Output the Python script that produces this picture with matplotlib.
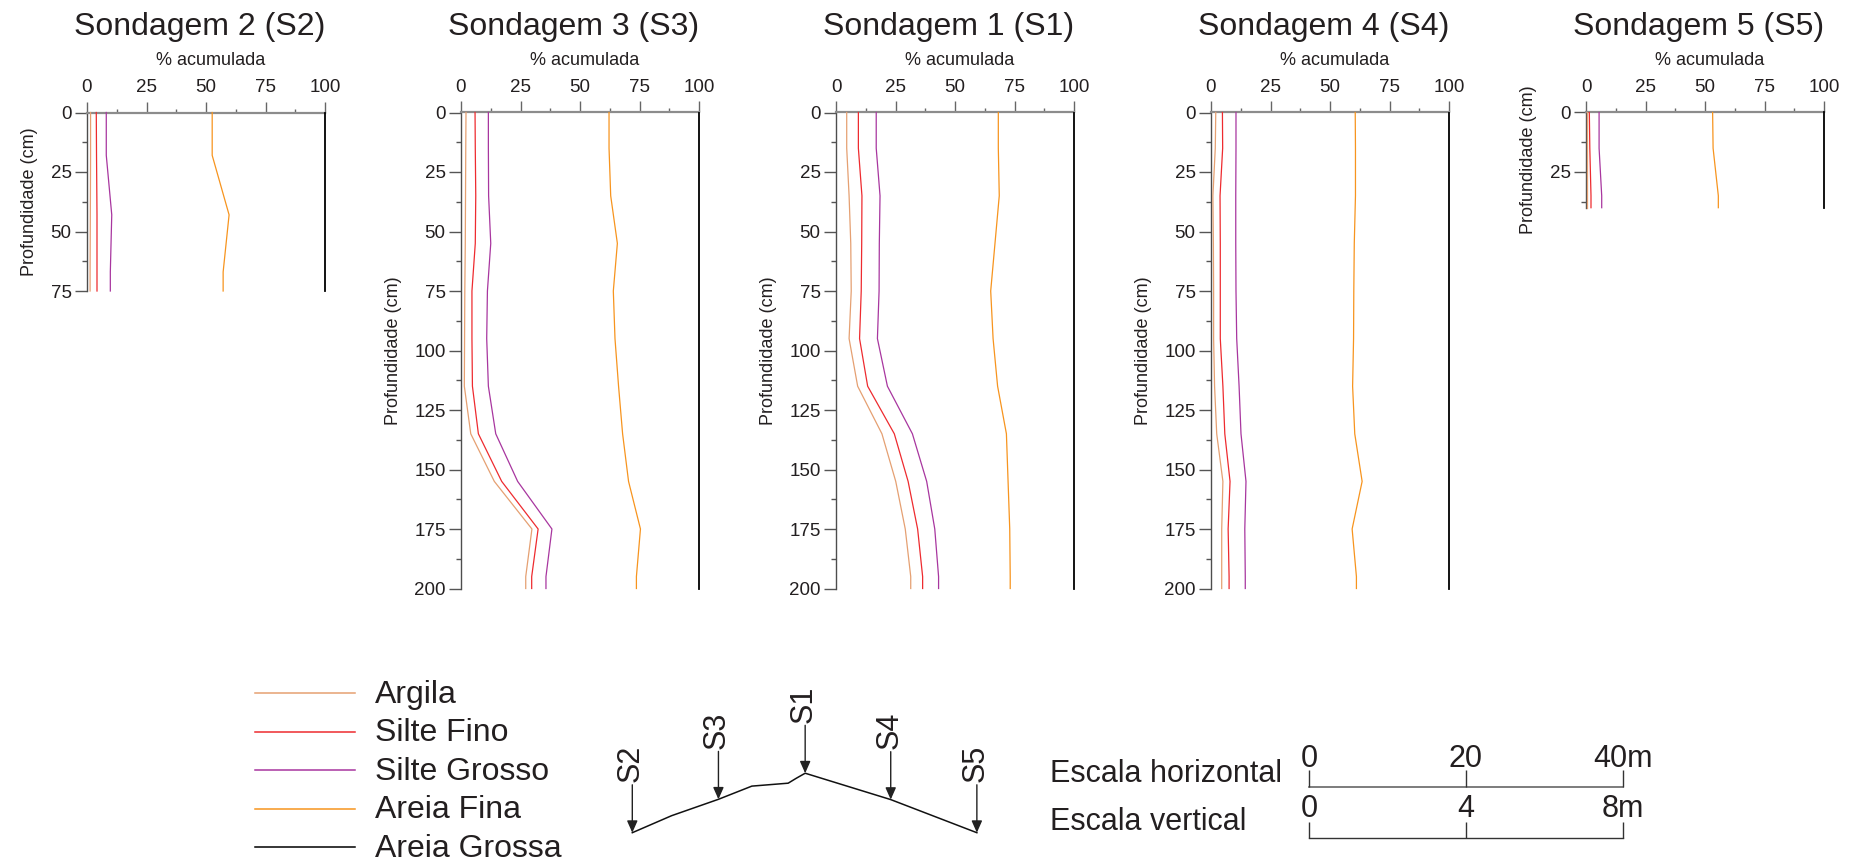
import matplotlib
matplotlib.use('Agg')
import matplotlib.pyplot as plt
from matplotlib.ticker import MultipleLocator, FixedLocator

plt.rcParams['font.family'] = ['Liberation Sans', 'DejaVu Sans']
TXT = '#231F20'

# ---------------- data ----------------
series_names = ['Argila', 'Silte Fino', 'Silte Grosso', 'Areia Fina', 'Areia Grossa']
series_colors = ['#E5A072', '#EE2B2F', '#A8369F', '#F7941E', '#000000']

panel_titles = ['Sondagem 2 (S2)', 'Sondagem 3 (S3)', 'Sondagem 1 (S1)',
                'Sondagem 4 (S4)', 'Sondagem 5 (S5)']
panel_maxdepth = [75, 200, 200, 200, 40]

depth_s2 = [0, 18, 43, 67, 75]
s2_argila = [1.5, 1.5, 1.4, 1.3, 1.3]
s2_silte_fino = [3.9, 4.0, 4.2, 4.2, 4.2]
s2_silte_grosso = [8.1, 8.1, 10.4, 9.8, 9.8]
s2_areia_fina = [52.6, 52.6, 59.7, 57.2, 57.2]
s2_areia_grossa = [100, 100, 100, 100, 100]

depth_std = [0, 15, 35, 55, 75, 95, 115, 135, 155, 175, 195, 200]

s3_argila = [2.1, 2.0, 1.9, 1.8, 1.6, 1.5, 1.4, 4.1, 14.0, 29.8, 27.2, 27.2]
s3_silte_fino = [5.9, 6.0, 6.2, 6.0, 4.6, 4.6, 4.8, 7.3, 17.1, 32.4, 29.7, 29.7]
s3_silte_grosso = [11.5, 11.5, 11.6, 12.5, 11.1, 10.8, 11.5, 14.6, 23.8, 38.2, 35.7, 35.7]
s3_areia_fina = [62.2, 62.2, 62.9, 65.7, 64.0, 64.7, 66.2, 67.9, 70.4, 75.4, 73.7, 73.7]
s3_areia_grossa = [100, 100, 100, 100, 100, 100, 100, 100, 100, 100, 100, 100]

s1_argila = [4.5, 4.5, 5.5, 6.2, 6.4, 5.5, 9.1, 19.3, 25.1, 29.1, 31.4, 31.4]
s1_silte_fino = [9.4, 9.4, 10.9, 10.8, 10.6, 9.9, 13.3, 24.5, 30.3, 34.3, 36.4, 36.4]
s1_silte_grosso = [16.9, 16.9, 18.5, 18.2, 18.1, 17.4, 21.6, 32.1, 38.1, 41.5, 43.1, 43.1]
s1_areia_fina = [68.2, 68.2, 68.6, 66.8, 65.0, 66.0, 67.9, 71.6, 72.3, 73.0, 73.2, 73.2]
s1_areia_grossa = [100, 100, 100, 100, 100, 100, 100, 100, 100, 100, 100, 100]

s4_argila = [2.0, 1.8, 0.8, 1.0, 1.1, 1.1, 1.5, 2.4, 5.0, 4.5, 4.5, 4.5]
s4_silte_fino = [4.8, 4.9, 3.8, 3.9, 3.9, 3.9, 5.0, 5.8, 8.0, 7.2, 7.6, 7.6]
s4_silte_grosso = [10.5, 10.5, 10.4, 10.4, 10.5, 10.8, 11.8, 12.6, 14.7, 14.2, 14.4, 14.4]
s4_areia_fina = [60.6, 60.7, 60.7, 60.2, 60.0, 59.9, 59.5, 60.4, 63.5, 59.3, 61.1, 61.1]
s4_areia_grossa = [100, 100, 100, 100, 100, 100, 100, 100, 100, 100, 100, 100]

depth_s5 = [0, 15, 35, 40]
s5_argila = [0.3, 0.3, 0.3, 0.3]
s5_silte_fino = [1.4, 1.6, 2.1, 2.1]
s5_silte_grosso = [5.5, 5.5, 6.6, 6.6]
s5_areia_fina = [53.2, 53.4, 55.6, 55.6]
s5_areia_grossa = [100, 100, 100, 100]

panel_depths = [depth_s2, depth_std, depth_std, depth_std, depth_s5]
panel_series = [
    [s2_argila, s2_silte_fino, s2_silte_grosso, s2_areia_fina, s2_areia_grossa],
    [s3_argila, s3_silte_fino, s3_silte_grosso, s3_areia_fina, s3_areia_grossa],
    [s1_argila, s1_silte_fino, s1_silte_grosso, s1_areia_fina, s1_areia_grossa],
    [s4_argila, s4_silte_fino, s4_silte_grosso, s4_areia_fina, s4_areia_grossa],
    [s5_argila, s5_silte_fino, s5_silte_grosso, s5_areia_fina, s5_areia_grossa],
]

x_ticks = [0, 25, 50, 75, 100]

# schematic cross-section (distance m, elevation m)
profile_dist = [0, 6.7, 14.7, 20.4, 26.6, 28.0, 29.5, 44.1, 58.8]
profile_elev = [0, 0.58, 1.14, 1.59, 1.69, 1.86, 2.03, 1.13, 0.0]
sond_labels = ['S2', 'S3', 'S1', 'S4', 'S5']
sond_dist = [0, 14.7, 29.5, 44.1, 58.8]
sond_elev = [0, 1.14, 2.03, 1.13, 0.0]

scale_h_ticks = [0, 20, 40]
scale_h_labels = ['0', '20', '40m']
scale_v_ticks = [0, 4, 8]
scale_v_labels = ['0', '4', '8m']

# ---------------- figure ----------------
W, H = 1854, 861
fig = plt.figure(figsize=(W / 100, H / 100), dpi=100)


def add_ax(x0, x1, y0, y1):
    return fig.add_axes([x0 / W, 1 - y1 / H, (x1 - x0) / W, (y1 - y0) / H])


def fx(px):
    return px / W


def fy(py):
    return 1 - py / H


panel_left = [87, 461, 836, 1211, 1586]
panel_width = 238
panel_top = 112.5
px_per_cm = 2.38

for i in range(5):
    x0 = panel_left[i]
    y0 = panel_top
    y1 = y0 + panel_maxdepth[i] * px_per_cm
    ax = add_ax(x0, x0 + panel_width, y0, y1)
    d = panel_depths[i]
    for vals, col, nm in zip(panel_series[i], series_colors, series_names):
        lw = 1.3 if nm == 'Areia Grossa' else 0.9
        ax.plot(vals, d, color=col, lw=lw, clip_on=False, zorder=3)
    ax.set_xlim(0, 100)
    ax.set_ylim(panel_maxdepth[i], 0)
    ax.xaxis.tick_top()
    ax.xaxis.set_major_locator(FixedLocator(x_ticks))
    ax.xaxis.set_minor_locator(MultipleLocator(12.5))
    ax.yaxis.set_major_locator(MultipleLocator(25))
    ax.yaxis.set_minor_locator(MultipleLocator(12.5))
    ax.spines['right'].set_visible(False)
    ax.spines['bottom'].set_visible(False)
    ax.spines['top'].set_color('#8C8C8C')
    ax.spines['top'].set_linewidth(1.6)
    ax.spines['left'].set_color('#4D4D4D')
    ax.spines['left'].set_linewidth(1.0)
    ax.tick_params(axis='x', which='major', direction='out', length=8, width=1.0,
                   color='#666666', labelsize=13.5, labelcolor=TXT, pad=4)
    ax.tick_params(axis='x', which='minor', direction='out', length=3, width=1.0,
                   color='#666666')
    ax.tick_params(axis='y', which='major', direction='out', length=8.6, width=1.0,
                   color='#555555', labelsize=13.5, labelcolor=TXT, pad=2.5)
    ax.tick_params(axis='y', which='minor', direction='out', length=3.6, width=1.0,
                   color='#555555')
    ax.set_ylabel('Profundidade (cm)', fontsize=13, color=TXT, labelpad=9)
    ax.patch.set_alpha(0)
    # title & axis title
    fig.text(fx(x0 + panel_width), fy(35), panel_titles[i], fontsize=23,
             color=TXT, ha='right', va='baseline')
    fig.text(fx(x0 + panel_width / 2 + 5), fy(65), '% acumulada', fontsize=13,
             color=TXT, ha='center', va='baseline')

# ---------------- legend ----------------
leg_pitch = 38.5
leg_top = 693.3
lax = add_ax(255, 355, leg_top - leg_pitch / 2, H)
lax.set_xlim(0, 1)
lax.set_ylim(-0.5 + (H - leg_top + leg_pitch / 2) / leg_pitch, -0.5)
lax.axis('off')
for k, (nm, col) in enumerate(zip(series_names, series_colors)):
    lax.plot([0, 1], [k, k], color=col, lw=1.1, clip_on=False)
    lax.text(1.2, k + 0.25, nm, fontsize=23, color=TXT, ha='left',
             va='baseline', clip_on=False)

# ---------------- cross-section ----------------
px_m_h = 234.4 / 40
px_m_v = 234.4 / 8
ox, oy = 632.3, 832.7
pax = add_ax(590, 1020, 670, H)
pax.set_xlim((590 - ox) / px_m_h, (1020 - ox) / px_m_h)
pax.set_ylim((oy - H) / px_m_v, (oy - 670) / px_m_v)
pax.axis('off')
pax.plot(profile_dist, profile_elev, color='#111111', lw=1.1, clip_on=False)
for lab, dd, ee in zip(sond_labels, sond_dist, sond_elev):
    pax.annotate('', xy=(dd, ee), xytext=(0, 34.5), textcoords='offset points',
                 arrowprops=dict(arrowstyle='-|>,head_length=0.45,head_width=0.2',
                                 color='#222222', lw=1.0, mutation_scale=16,
                                 shrinkA=0, shrinkB=0))
    pax.annotate(lab, xy=(dd, ee), xytext=(-1, 36.5), textcoords='offset points',
                 rotation=90, ha='center', va='bottom', fontsize=22, color=TXT)

# ---------------- scale bars ----------------
bar_x0, bar_x1 = 1309, 1623
hax = add_ax(bar_x0, bar_x1, 770, 786.7)
hax.set_xlim(scale_h_ticks[0], scale_h_ticks[-1])
hax.set_ylim(0, 1)
hax.axis('off')
hax.plot([scale_h_ticks[0], scale_h_ticks[-1]], [0, 0], color='#666666', lw=1.2,
         clip_on=False)
hax.vlines(scale_h_ticks, 0, 1, color='#333333', lw=1.0, clip_on=False)
for t, lab in zip(scale_h_ticks, scale_h_labels):
    hax.text(t, 1.2, lab, fontsize=22, color=TXT, ha='center', va='baseline')

vax = add_ax(bar_x0, bar_x1, 821.7, 837.7)
vax.set_xlim(scale_v_ticks[0], scale_v_ticks[-1])
vax.set_ylim(0, 1)
vax.axis('off')
vax.plot([scale_v_ticks[0], scale_v_ticks[-1]], [0, 0], color='#333333', lw=1.0,
         clip_on=False)
vax.vlines(scale_v_ticks, 0, 1, color='#333333', lw=1.0, clip_on=False)
for t, lab in zip(scale_v_ticks, scale_v_labels):
    vax.text(t, 1.3, lab, fontsize=22, color=TXT, ha='center', va='baseline')

fig.text(fx(1050), fy(782), 'Escala horizontal', fontsize=22, color=TXT,
         ha='left', va='baseline')
fig.text(fx(1050), fy(830), 'Escala vertical', fontsize=22, color=TXT,
         ha='left', va='baseline')

fig.savefig('out.png', dpi=100, facecolor='white')
